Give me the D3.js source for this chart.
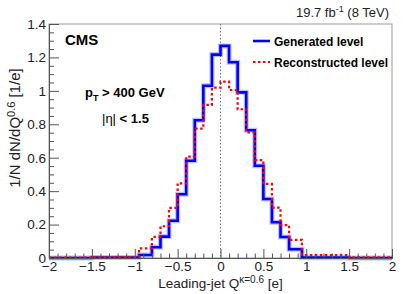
<!DOCTYPE html>
<html>
<head>
<meta charset="utf-8">
<script src="https://cdn.jsdelivr.net/npm/d3@7"></script>
<style>
  body { margin: 0; background: #fff; }
  svg { display: block; font-family: "Liberation Sans", Arial, Helvetica, sans-serif; }
</style>
</head>
<body>
<svg id="chart" width="409" height="294"></svg>
<script>
// Bin edges (non-uniform at the tails) and normalised bin contents
const binEdges = [-2, -1.5, -0.95, -0.8, -0.7, -0.6, -0.5, -0.4, -0.3, -0.2, -0.1, 0,
  0.1, 0.2, 0.3, 0.4, 0.5, 0.6, 0.7, 0.8, 0.95, 1.5, 2];
const generated = [0.0, 0.003, 0.018, 0.064, 0.128, 0.223, 0.381, 0.582, 0.824, 1.031, 1.217,
  1.269, 1.171, 0.991, 0.764, 0.552, 0.353, 0.214, 0.126, 0.052, 0.002, 0.0];
const reconstructed = [0.003, 0.006, 0.058, 0.126, 0.19, 0.30, 0.447, 0.606, 0.774, 0.916, 1.019,
  1.055, 1.005, 0.89, 0.752, 0.586, 0.443, 0.301, 0.197, 0.108, 0.018, 0.004];
const xTicks = [-2, -1.5, -1, -0.5, 0, 0.5, 1, 1.5, 2];
const yTicks = [0, 0.2, 0.4, 0.6, 0.8, 1, 1.2, 1.4];

const svg = d3.select("#chart");
const margin = { top: 24, right: 17, bottom: 36, left: 49 };
const width = 409 - margin.left - margin.right;
const height = 294 - margin.top - margin.bottom;

const x = d3.scaleLinear().domain([-2, 2]).range([0, width]);
const y = d3.scaleLinear().domain([0, 1.4]).range([height, 0]);

const g = svg.append("g").attr("transform", `translate(${margin.left},${margin.top})`);

// frame (top / right)
g.append("rect")
  .attr("width", width).attr("height", height)
  .attr("fill", "none").attr("stroke", "#999").attr("stroke-width", 1);

// dotted line at zero
g.append("line")
  .attr("x1", x(0)).attr("x2", x(0))
  .attr("y1", 0).attr("y2", height)
  .attr("stroke", "#777").attr("stroke-width", 1)
  .attr("stroke-dasharray", "1.5,2");

// step histograms
function stepPoints(values) {
  const pts = values.map((v, i) => [binEdges[i], v]);
  pts.push([binEdges[binEdges.length - 1], values[values.length - 1]]);
  return pts;
}
const step = d3.line()
  .x(d => x(d[0]))
  .y(d => y(d[1]))
  .curve(d3.curveStepAfter);

g.append("path")
  .attr("d", step(stepPoints(generated)))
  .attr("fill", "none").attr("stroke", "#0000ff")
  .attr("stroke-opacity", 0.25).attr("stroke-width", 5);
g.append("path")
  .attr("d", step(stepPoints(generated)))
  .attr("fill", "none").attr("stroke", "#0000ff").attr("stroke-width", 2.6);
g.append("path")
  .attr("d", step(stepPoints(reconstructed)))
  .attr("fill", "none").attr("stroke", "#ff0000").attr("stroke-width", 2.2)
  .attr("stroke-dasharray", "2.5,2.5");

// axes
const fmt = d3.format("~g");
const xMinor = d3.range(-20, 21).map(d => d / 10).filter(d => Math.abs(d * 2 - Math.round(d * 2)) > 1e-6);
const yMinor = d3.range(0, 29).map(d => d / 20).filter(d => Math.abs(d * 5 - Math.round(d * 5)) > 1e-6);

g.append("g").attr("transform", `translate(0,${height})`)
  .call(d3.axisBottom(x).tickValues(xTicks).tickFormat(fmt).tickSize(-9).tickPadding(3.5));
g.append("g").attr("transform", `translate(0,${height})`)
  .call(d3.axisBottom(x).tickValues(xMinor).tickFormat("").tickSize(-4.5));

g.append("g")
  .call(d3.axisLeft(y).tickValues(yTicks).tickFormat(fmt).tickSize(-10).tickPadding(3));
g.append("g")
  .call(d3.axisLeft(y).tickValues(yMinor).tickFormat("").tickSize(-5));

g.selectAll(".domain").attr("stroke", "#555");
g.selectAll(".tick line").attr("stroke", "#555");
g.selectAll(".tick text").attr("font-size", 13.5).attr("fill", "#222")
  .attr("font-family", "'Liberation Sans', Arial, sans-serif");

// axis titles
const xt = svg.append("text")
  .attr("x", margin.left + x(0)).attr("y", 288)
  .attr("text-anchor", "middle").attr("font-size", 13.5).attr("fill", "#222");
xt.append("tspan").text("Leading-jet Q");
xt.append("tspan").attr("dy", -5).attr("font-size", 10).text("κ=0.6");
xt.append("tspan").attr("dy", 5).text(" [e]");

const yt = svg.append("text")
  .attr("transform", `translate(20,128) rotate(-90)`)
  .attr("text-anchor", "middle").attr("font-size", 15).attr("fill", "#222");
yt.append("tspan").text("1/N dN/dQ");
yt.append("tspan").attr("dy", -5.5).attr("font-size", 11).text("0.6");
yt.append("tspan").attr("dy", 5.5).text(" [1/e]");

// luminosity label
const lumi = svg.append("text")
  .attr("x", 389).attr("y", 17)
  .attr("text-anchor", "end").attr("font-size", 13).attr("fill", "#222");
lumi.append("tspan").text("19.7 fb");
lumi.append("tspan").attr("dy", -5).attr("font-size", 9).text("-1");
lumi.append("tspan").attr("dy", 5).text(" (8 TeV)");

// CMS label and selection text
svg.append("text").attr("x", 65).attr("y", 45)
  .attr("font-size", 15).attr("font-weight", "bold").text("CMS");

const pt = svg.append("text").attr("x", 85).attr("y", 97)
  .attr("font-size", 13).attr("font-weight", "bold");
pt.append("tspan").text("p");
pt.append("tspan").attr("dy", 4).attr("font-size", 9).text("T");
pt.append("tspan").attr("dy", -4).text(" > 400 GeV");

const eta = svg.append("text").attr("x", 102).attr("y", 123).attr("font-size", 13);
eta.append("tspan").text("|η|");
eta.append("tspan").attr("font-weight", "bold").text(" < 1.5");

// legend
const legend = [
  { label: "Generated level", color: "#0000ff", dash: null, width: 2.6, y: 41 },
  { label: "Reconstructed level", color: "#ff0000", dash: "2.5,2.5", width: 2.2, y: 62 }
];
legend.forEach(d => {
  svg.append("line")
    .attr("x1", 253).attr("x2", 270).attr("y1", d.y).attr("y2", d.y)
    .attr("stroke", d.color).attr("stroke-width", d.width)
    .attr("stroke-dasharray", d.dash);
  svg.append("text").attr("x", 274).attr("y", d.y + 4.5)
    .attr("font-size", 12).attr("font-weight", "bold").text(d.label);
});
</script>
</body>
</html>
